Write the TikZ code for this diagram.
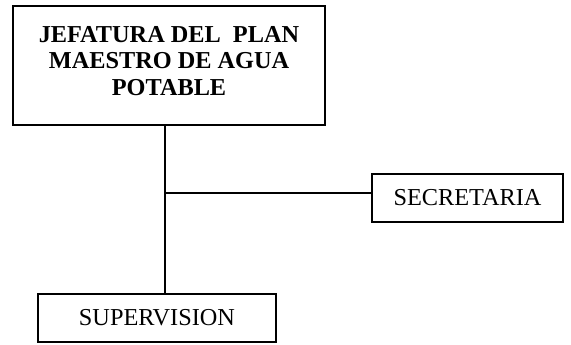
\documentclass[tikz,border=0pt]{standalone}
\usepackage{fontspec}
\setmainfont{Liberation Serif}
\usepackage{tikz}
\usetikzlibrary{positioning}

\tikzset{
    orgbox/.style={draw, line width=1.6pt, inner sep=0pt, align=center,
        font=\fontsize{24.3}{27}\selectfont},
    link/.style={line width=1.6pt}
}

\begin{document}
\begin{tikzpicture}[x=1pt, y=-1pt]
    % Frame of the picture
    \useasboundingbox (0,0) rectangle (571,345);

    % Boxes
    \node[orgbox, minimum width=312pt, minimum height=119pt, text depth=10pt, font=\bfseries\fontsize{24.3}{26.5}\selectfont]
        (jefe) at (169,65.5) {JEFATURA DEL\ \ PLAN\\MAESTRO DE AGUA\\POTABLE};
    \node[orgbox, minimum width=191pt, minimum height=48pt] (secre) at (467.5,198) {SECRETARIA};
    \node[orgbox, minimum width=238pt, minimum height=48pt] (super) at (157,318) {SUPERVISION};

    % Trunk and branch
    \coordinate (trunk) at (165,193);
    \draw[link] (trunk |- jefe.south) -- (trunk |- super.north);
    \draw[link] (trunk) -- (trunk -| secre.west);
\end{tikzpicture}
\end{document}
